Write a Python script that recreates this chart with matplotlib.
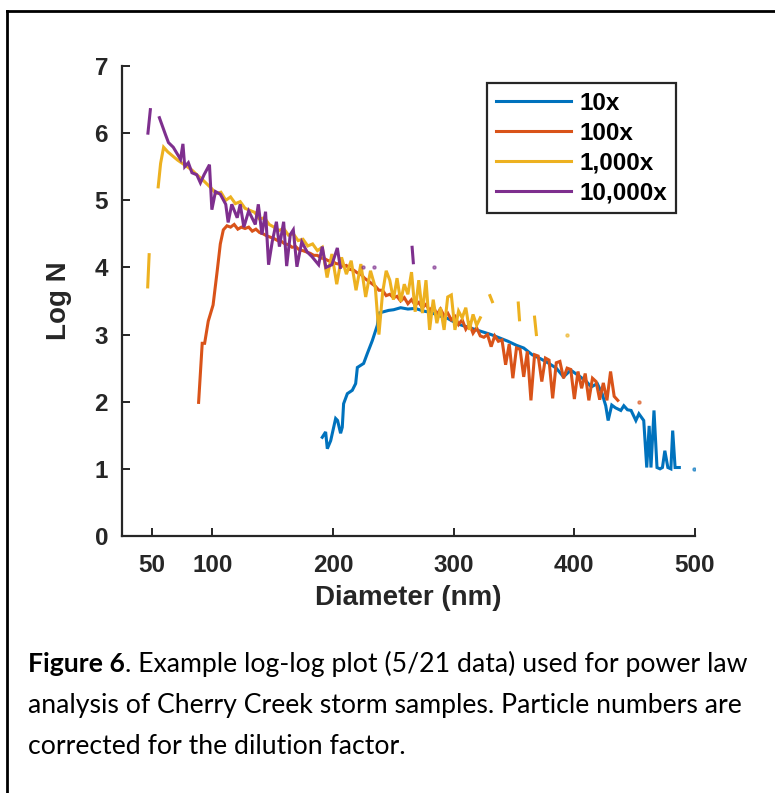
import numpy as np
import matplotlib.pyplot as plt

# ------------------------------
# Datos (Diameter nm, Log N)
# ------------------------------
# 10x
blue_x = [191, 193.8, 195.2, 198, 202.1, 203.7, 206.2, 207.6, 208.7, 211.8,
          215.9, 218.7, 220.1, 225.3, 228.4, 232.5, 236.7, 237.8, 241.9, 246,
          250.2, 256, 262, 268, 275, 281, 288, 295, 303, 310,
          317, 324, 331, 338, 345, 352, 358, 365, 372, 378,
          385, 391, 397, 405, 410, 414, 419, 423, 426, 428,
          431, 434, 438.5, 441, 444, 447, 451, 453.5, 457.5, 460,
          462, 463.5, 466, 468.5, 471, 473, 475, 477.5, 480, 481.5,
          483.5, 487]
blue_y = [1.47, 1.55, 1.3, 1.42, 1.75, 1.72, 1.53, 1.62, 1.97, 2.12,
          2.17, 2.27, 2.51, 2.57, 2.72, 2.91, 3.14, 3.32, 3.34, 3.36,
          3.37, 3.4, 3.38, 3.39, 3.35, 3.33, 3.28, 3.24, 3.16, 3.12,
          3.08, 3.04, 3.0, 2.95, 2.9, 2.84, 2.8, 2.7, 2.64, 2.58,
          2.5, 2.37, 2.47, 2.37, 2.3, 2.22, 2.27, 2.12, 1.94, 1.72,
          1.95, 1.91, 1.87, 1.94, 1.88, 1.87, 1.72, 1.82, 1.72, 1.02,
          1.64, 1.02, 1.87, 1.02, 1.0, 1.02, 1.27, 1.02, 1.0, 1.57,
          1.02, 1.02]
blue_dot_x = [499]
blue_dot_y = [1.0]

# 100x
orange_x = [88.5, 91.5, 93.5, 96.5, 100.5, 104, 106.5, 109, 112, 115,
            118, 121, 124, 127, 130, 133, 136, 139, 142, 145,
            148, 151, 154, 157, 160, 163, 166, 169, 172, 175,
            178, 181, 184, 187, 190, 193, 196, 199, 202, 205,
            208, 211, 214, 217, 220, 223, 226, 229, 232, 235,
            238, 241, 244, 247, 250, 253, 256, 259, 262, 265,
            268, 271, 274, 277, 280, 283, 286, 289, 292, 295,
            298, 301, 304, 307, 310, 313, 316, 319, 322, 325,
            328, 331, 334, 337, 340, 343, 346, 349, 352, 355,
            358, 361, 364, 367, 370, 373, 376, 379, 382, 385,
            388, 391, 394, 397, 400, 403, 406, 409, 412, 415,
            418, 421, 424, 427, 430, 433, 436]
orange_y = [1.99, 2.87, 2.87, 3.2, 3.44, 3.96, 4.35, 4.56, 4.62, 4.6,
            4.64, 4.57, 4.6, 4.58, 4.6, 4.54, 4.57, 4.52, 4.5, 4.47,
            4.45, 4.43, 4.4, 4.39, 4.35, 4.34, 4.3, 4.31, 4.26, 4.25,
            4.23, 4.21, 4.18, 4.18, 4.14, 4.13, 4.1, 4.1, 4.06, 4.05,
            4.02, 4.03, 3.97, 3.96, 3.92, 3.9, 3.84, 3.8, 3.76, 3.72,
            3.66, 3.66, 3.58, 3.6, 3.55, 3.57, 3.5, 3.55, 3.46, 3.52,
            3.44, 3.48, 3.4, 3.45, 3.36, 3.42, 3.3, 3.38, 3.28, 3.32,
            3.22, 3.27, 3.15, 3.22, 3.08, 3.16, 3.02, 3.1, 2.98, 2.96,
            3.0, 2.82, 2.98, 2.9, 2.92, 2.55, 2.86, 2.35, 2.8, 2.78,
            2.37, 2.75, 2.02, 2.7, 2.68, 2.3, 2.65, 2.62, 2.05, 2.58,
            2.6, 2.35, 2.5, 2.48, 2.04, 2.45, 2.2, 2.42, 2.02, 2.35,
            2.3, 2.03, 2.28, 2.02, 2.45, 2.08, 2.02]
orange_dot_x = [453.5]
orange_dot_y = [2.0]

# 1,000x
yellow_x = [55, 57, 59.5, 63, 67, 71, 75, 79, 83, 87,
            91, 95, 99, 103, 107, 111, 115, 119, 123, 127,
            131, 135, 139, 143, 147, 151, 155, 159, 163, 167,
            171, 175, 179, 183, 187, 191, 195, 199, 203, 207,
            211, 215, 219, 223, 227, 231, 235, 238, 241, 244,
            247, 250, 253, 256, 259, 262, 265, 268, 271, 274,
            277, 280, 283, 286, 289, 292, 295, 298, 301, 304,
            307, 310, 313, 316, 319, 322]
yellow_y = [5.2, 5.55, 5.79, 5.72, 5.66, 5.6, 5.55, 5.5, 5.45, 5.38,
            5.32, 5.25, 5.18, 5.1, 5.12, 5.0, 5.05, 4.95, 4.98, 4.88,
            4.85, 4.82, 4.72, 4.74, 4.64, 4.6, 4.55, 4.58, 4.48, 4.5,
            4.4, 4.42, 4.32, 4.35, 4.25, 4.3, 3.85, 4.2, 3.75, 4.15,
            3.9, 4.1, 3.66, 4.05, 3.56, 3.95, 3.7, 3.0, 3.62, 3.95,
            3.81, 3.52, 3.84, 3.49, 3.75, 3.6, 3.93, 3.34, 3.81, 3.32,
            3.81, 3.07, 3.52, 3.17, 3.4, 3.07, 3.56, 3.59, 3.07, 3.35,
            3.25, 3.4, 3.07, 3.3, 3.14, 3.25]
yellow_seg_x = [[46.3, 47.5], [330, 332], [353.5, 354.5], [367, 368.5]]
yellow_seg_y = [[3.71, 4.19], [3.58, 3.49], [3.47, 3.22], [3.26, 3.0]]
yellow_dot_x = [394]
yellow_dot_y = [3.0]

# 10,000x
purple_x = [56, 61, 63.5, 67.5, 73.5, 75.5, 77, 80, 83, 87,
            90, 93, 97.5, 99.5, 102.5, 106.5, 111, 113, 116, 120.5,
            123, 126, 130, 135.5, 138, 141, 144, 146.5, 149.5, 153,
            155.5, 159, 161.5, 164.5, 167, 170, 174, 178.5, 182.5, 188,
            191, 194, 199, 203.5, 206]
purple_y = [6.23, 5.98, 5.86, 5.79, 5.61, 5.84, 5.5, 5.56, 5.41, 5.38,
            5.26, 5.38, 5.53, 4.86, 5.13, 5.09, 4.94, 4.67, 4.94, 4.74,
            4.94, 4.6, 4.84, 4.64, 4.94, 4.49, 4.83, 4.04, 4.38, 4.68,
            4.31, 4.68, 4.02, 4.49, 4.56, 4.01, 4.38, 4.23, 4.16, 4.04,
            4.31, 4.0, 4.04, 4.29, 4.0]
purple_seg_x = [[46.5, 48.5], [265.5, 266.5]]
purple_seg_y = [[6.0, 6.35], [4.3, 4.07]]
purple_dot_x = [225, 233.5, 283.5]
purple_dot_y = [4.0, 4.0, 4.0]

labels = ["10x", "100x", "1,000x", "10,000x"]
colors = ["#0072BD", "#D95319", "#EDB120", "#7E2F8E"]

x_ticks = [50, 100, 200, 300, 400, 500]
y_ticks = [0, 1, 2, 3, 4, 5, 6, 7]

# ------------------------------
# Figura
# ------------------------------
W, H = 775, 793
plt.rcParams["font.family"] = ["Liberation Sans", "DejaVu Sans"]
fig = plt.figure(figsize=(W / 100, H / 100), dpi=100)
ax = fig.add_axes([122 / W, 1 - 536 / H, (695 - 122) / W, (536 - 66) / H])

lw = 2.2
series = [
    (blue_x, blue_y, [], [], blue_dot_x, blue_dot_y),
    (orange_x, orange_y, [], [], orange_dot_x, orange_dot_y),
    (yellow_x, yellow_y, yellow_seg_x, yellow_seg_y, yellow_dot_x, yellow_dot_y),
    (purple_x, purple_y, purple_seg_x, purple_seg_y, purple_dot_x, purple_dot_y),
]
for (xs, ys, sx, sy, dx, dy), c, lab in zip(series, colors, labels):
    ax.plot(xs, ys, color=c, lw=lw, label=lab, solid_joinstyle="miter")
    for a, b in zip(sx, sy):
        ax.plot(a, b, color=c, lw=lw)
    ax.plot(dx, dy, ls="none", marker="o", ms=2.2, color=c, alpha=0.6)

ax.set_xlim(25, 500)
ax.set_ylim(0, 7)
ax.set_xticks(x_ticks)
ax.set_yticks(y_ticks)

dark = "#262626"
for s in ["top", "right"]:
    ax.spines[s].set_visible(False)
for s in ["left", "bottom"]:
    ax.spines[s].set_color(dark)
    ax.spines[s].set_linewidth(1.6)
ax.tick_params(direction="in", length=6, width=1.4, color=dark, labelcolor=dark,
               labelsize=17.5)
ax.tick_params(axis="x", pad=13)
ax.tick_params(axis="y", pad=10)
for t in ax.get_xticklabels() + ax.get_yticklabels():
    t.set_fontweight("bold")

ax.set_xlabel("Diameter (nm)", fontsize=20, fontweight="bold", color=dark, labelpad=6)
ax.set_ylabel("Log N", fontsize=20, fontweight="bold", color=dark, labelpad=16)

leg = ax.legend(loc="upper right", bbox_to_anchor=((676 - 122) / 573, (536 - 83) / 470),
                borderaxespad=0, fancybox=False, framealpha=1, edgecolor=dark,
                prop={"weight": "bold", "size": 17.5}, handlelength=3.1,
                handletextpad=0.33, labelspacing=0.28, borderpad=0.36)
leg.get_frame().set_linewidth(1.6)

# Marco exterior
fig.add_artist(plt.Line2D([7 / W, 7 / W], [0, 1 - 11 / H], color="black", lw=2))
fig.add_artist(plt.Line2D([7 / W, 1], [1 - 11 / H, 1 - 11 / H], color="black", lw=2))

# Pie de figura
cap_font = ["Lato", "DejaVu Sans"]
cap_size = 19.2
x0 = 28 / W
t1 = fig.text(x0, 1 - 664 / H, "Figure 6", fontsize=cap_size, fontweight="bold",
              family=cap_font, va="center", ha="left")
fig.canvas.draw()
bb = t1.get_window_extent(fig.canvas.get_renderer())
fig.text(bb.x1 / W, 1 - 664 / H, ". Example log-log plot (5/21 data) used for power law",
         fontsize=cap_size, family=cap_font, va="center", ha="left")
fig.text(x0, 1 - 705 / H, "analysis of Cherry Creek storm samples. Particle numbers are",
         fontsize=cap_size, family=cap_font, va="center", ha="left")
fig.text(x0, 1 - 746 / H, "corrected for the dilution factor.",
         fontsize=cap_size, family=cap_font, va="center", ha="left")

fig.savefig("out.png", dpi=100)
